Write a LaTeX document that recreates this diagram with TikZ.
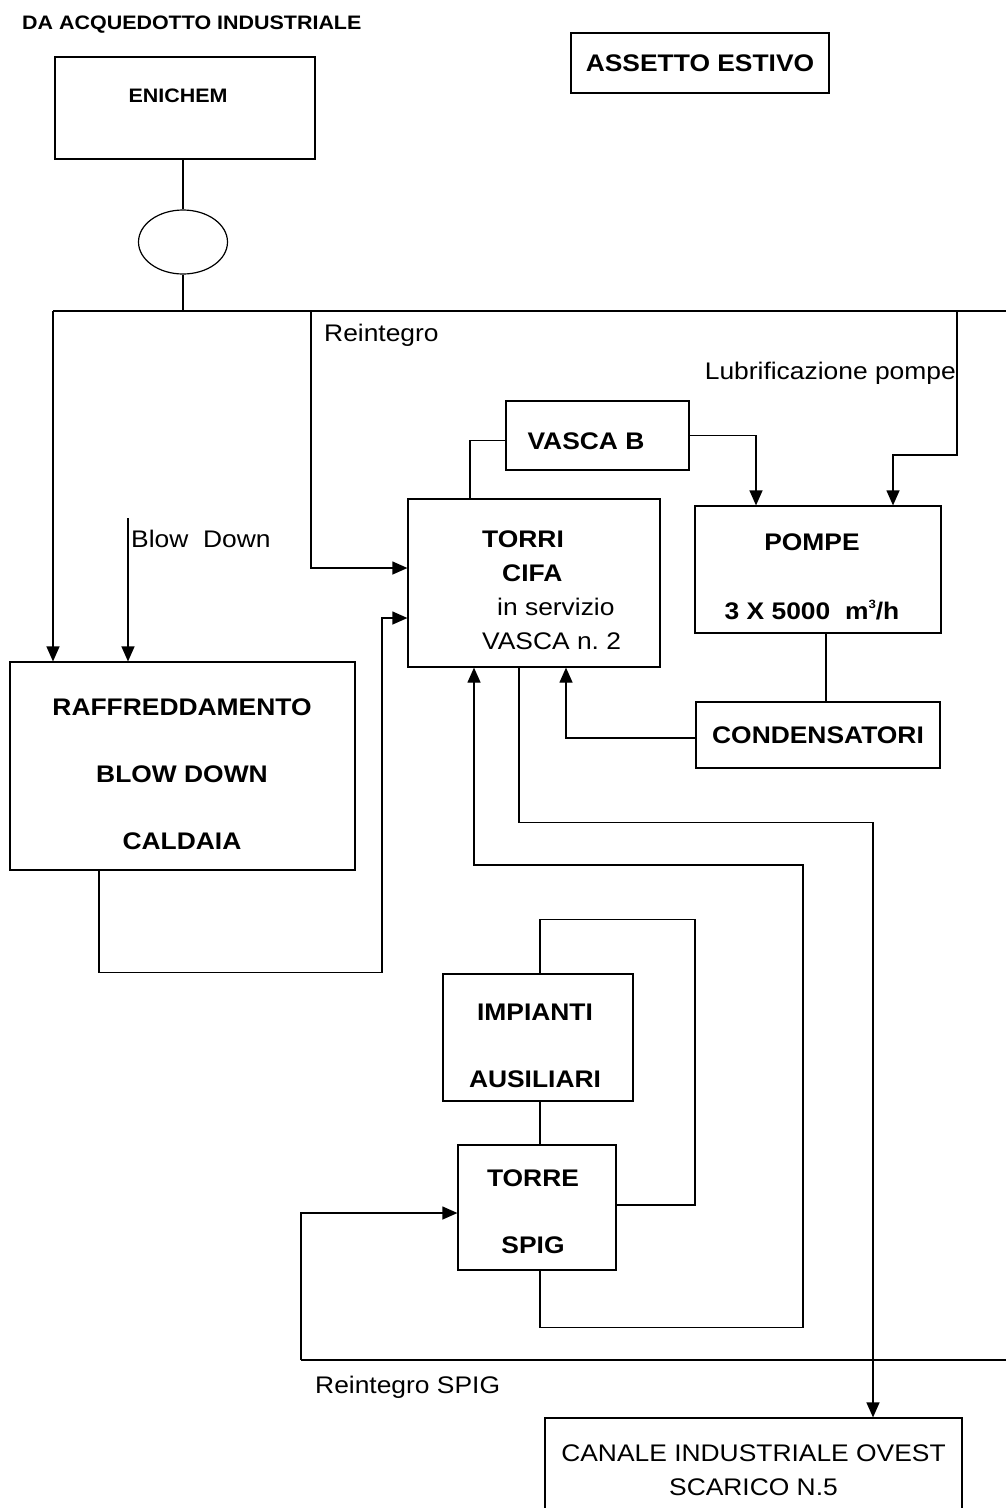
\documentclass[tikz,border=0pt]{standalone}
\usepackage{fontspec}
\setmainfont{Liberation Sans}[FakeStretch=1.1]
\usetikzlibrary{arrows.meta,shapes.geometric}

\begin{document}
\begin{tikzpicture}[x=1pt,y=-1pt,
    box/.style={draw, line width=1.2pt, inner sep=0pt},
    pipe/.style={line width=1.2pt},
    flow/.style={line width=1.2pt, -{Triangle[length=15pt,width=13pt]}},
    boldtxt/.style={font=\fontsize{24}{34}\selectfont\bfseries, inner sep=0pt, align=center},
    plaintxt/.style={font=\fontsize{24}{34}\selectfont, inner sep=0pt, align=center},
    smalltxt/.style={font=\fontsize{19.5}{24}\selectfont\bfseries, inner sep=0pt}]
  \useasboundingbox (0,0) rectangle (1006,1508);
  \clip (0,0) rectangle (1006,1508);

  % alimentazione
  \node[smalltxt, anchor=west] (title) at (22,25) {DA ACQUEDOTTO INDUSTRIALE};
  \node[box, boldtxt, minimum width=258, minimum height=60] (assetto) at (700,63) {ASSETTO ESTIVO};
  \node[box, minimum width=260, minimum height=102] (enichem) at (185,108) {};
  \node[smalltxt] (enichemtxt) at (178,96) {ENICHEM};
  \node[box, ellipse, minimum width=89, minimum height=64] (valve) at (183,242) {};

  % torri e vasche
  \node[box, minimum width=252, minimum height=168] (torri) at (534,583) {};
  \node[anchor=west, inner sep=0pt, align=left, font=\fontsize{24}{34}\selectfont] (torritxt) at (482,590)
    {\textbf{TORRI}\\\hspace*{20pt}\textbf{CIFA}\\\hspace*{15pt}in servizio\\VASCA n.~2};
  \node[box, minimum width=183, minimum height=69] (vascab) at (597.5,435.5) {};
  \node[boldtxt] (vascabtxt) at (586,441) {VASCA B};
  \node[box, minimum width=246, minimum height=127] (pompe) at (818,569.5) {};
  \node[boldtxt] (pompetxt) at (812,577)
    {POMPE\\[35pt]3 X 5000\ \ m\raisebox{11pt}{\fontsize{12}{12}\selectfont 3}/h};
  \node[box, boldtxt, minimum width=244, minimum height=66] (cond) at (818,735) {CONDENSATORI};
  \node[box, minimum width=345, minimum height=208] (raff) at (182.5,766) {};
  \node[boldtxt] (rafftxt) at (182,774) {RAFFREDDAMENTO\\[33pt]BLOW DOWN\\[33pt]CALDAIA};
  \node[box, minimum width=190, minimum height=127] (impianti) at (538,1037.5) {};
  \node[boldtxt] (impiantitxt) at (535,1045.5) {IMPIANTI\\[33pt]AUSILIARI};
  \node[box, minimum width=158, minimum height=125] (spig) at (537,1207.5) {};
  \node[boldtxt] (spigtxt) at (533,1211.5) {TORRE\\[33pt]SPIG};
  \node[box, plaintxt, minimum width=417, minimum height=104] (canale) at (753.5,1470)
    {CANALE INDUSTRIALE OVEST\\SCARICO N.5};

  % etichette
  \node[plaintxt, anchor=west] (reintlbl) at (324,335) {Reintegro};
  \node[plaintxt, anchor=east] (lubrlbl) at (956,373) {Lubrificazione pompe};
  \node[plaintxt, anchor=west] (blowlbl) at (131,539) {Blow\ \ Down};
  \node[plaintxt, anchor=west] (reintspiglbl) at (315,1387) {Reintegro SPIG};

  \coordinate (hl) at (53,311);
  \coordinate (hr) at (1006,311);
  \coordinate (reint) at (311,311);
  \coordinate (lubr) at (957,311);
  \coordinate (bd) at (128,518);
  \coordinate (rsl) at (301,1360);
  \coordinate (rsr) at (1006,1360);

  \draw[pipe] (valve.north |- enichem.south) -- (valve.north);
  \draw[pipe] (valve.south) -- (valve.south |- hl);
  \draw[pipe] (hl) -- (hr);
  \draw[flow] (hl) -- (hl |- raff.north);
  \draw[flow] (reint) |- ([yshift=15pt]torri.west);
  \draw[flow] (lubr) -- ++(0,144) -| ([xshift=75pt]pompe.north);
  \draw[flow] (bd) -- (bd |- raff.north);
  \draw[flow] ([xshift=-83.5pt]raff.south) -- ++(0,102) -- ++(283,0) |- ([yshift=-35pt]torri.west);
  \draw[pipe] ([xshift=-64pt]torri.north) |- ([yshift=-5pt]vascab.west);
  \draw[flow] (vascab.east) -| ([xshift=-62pt]pompe.north);
  \draw[pipe] ([xshift=8pt]pompe.south) -- ([xshift=8pt]cond.north);
  \draw[flow] ([yshift=-3pt]cond.west) -| ([xshift=32pt]torri.south);
  \draw[flow] ([xshift=-15pt]torri.south) -- ++(0,155) -| ([xshift=119.5pt]canale.north);
  \draw[flow] ([xshift=3pt]spig.south) -- ++(0,57) -| (803,865) -| ([xshift=-60pt]torri.south);
  \draw[pipe] ([xshift=2pt]impianti.south) -- ([xshift=3pt]spig.north);
  \draw[pipe] ([xshift=2pt]impianti.north) -- ++(0,-54) -| (695,1205) -- ([yshift=2.5pt]spig.east);
  \draw[pipe] (rsl) -- (rsr);
  \draw[flow] (rsl) |- ([yshift=-5.5pt]spig.west);
\end{tikzpicture}
\end{document}
